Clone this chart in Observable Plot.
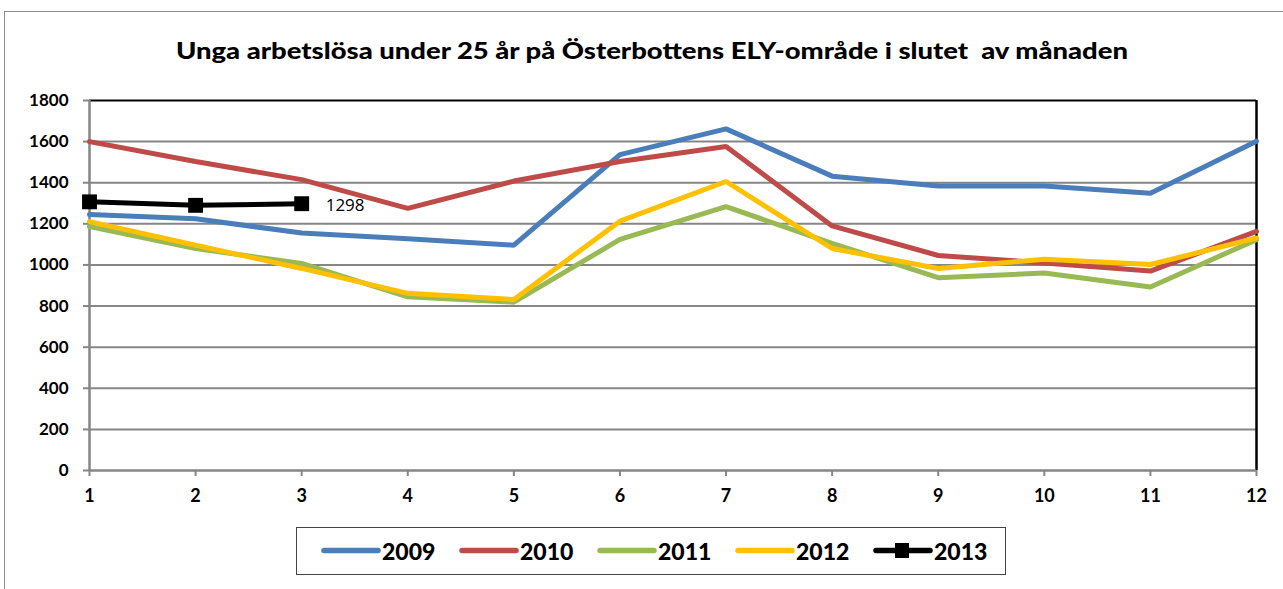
<!DOCTYPE html>
<html>
<head>
<meta charset="utf-8">
<script src="https://cdn.jsdelivr.net/npm/d3@7"></script>
<script src="https://cdn.jsdelivr.net/npm/@observablehq/plot@0.6"></script>
<style>
  html, body { margin: 0; padding: 0; background: #fff; }
  body { width: 1283px; height: 589px; position: relative; overflow: hidden; font-family: Lato, "Open Sans", sans-serif; }
  #frame { position: absolute; left: 4px; top: 11px; width: 1400px; height: 700px; border-left: 1.5px solid #8c8c8c; border-top: 1.5px solid #8c8c8c; }
  #chart { position: absolute; left: 0; top: 0; }
  #title { position: absolute; top: 36px; left: 0; white-space: pre; font-weight: 900; font-size: 23px; color: #000; transform-origin: 0 0; }
  #legend { position: absolute; left: 296px; top: 527px; width: 710px; height: 48px; border: 1.5px solid #444; box-sizing: border-box; }
  .item { position: absolute; top: 0; height: 45px; display: flex; align-items: center; }
  .item span { font-weight: 900; font-size: 23px; margin-left: 1px; display: inline-block; }
</style>
</head>
<body>
<div id="frame"></div>
<div id="chart"></div>
<div id="title">Unga arbetslösa under 25 år på Österbottens ELY-område i slutet  av månaden</div>
<div id="legend"></div>
<script>
const months = [1, 2, 3, 4, 5, 6, 7, 8, 9, 10, 11, 12];
const yTicks = [0, 200, 400, 600, 800, 1000, 1200, 1400, 1600, 1800];
const s2009 = [1245, 1225, 1155, 1128, 1096, 1537, 1662, 1432, 1384, 1384, 1349, 1602];
const s2010 = [1600, 1503, 1415, 1275, 1408, 1503, 1576, 1190, 1046, 1010, 970, 1163];
const s2011 = [1187, 1080, 1007, 845, 819, 1124, 1284, 1105, 938, 961, 893, 1123];
const s2012 = [1211, 1096, 983, 862, 832, 1213, 1406, 1080, 983, 1028, 1002, 1131];
const s2013 = [1307, 1290, 1298];
const seriesNames = ["2009", "2010", "2011", "2012", "2013"];
const seriesColors = ["#4A7EBB", "#BE4B48", "#98B954", "#FFC000", "#000000"];
const label2013 = "1298";

const allSeries = [s2009, s2010, s2011, s2012, s2013];
const rows = allSeries.map((s, i) => s.map((v, j) => ({ month: months[j], value: v, series: seriesNames[i] })));
const last2013 = rows[4][rows[4].length - 1];

const chart = Plot.plot({
  width: 1283,
  height: 589,
  marginLeft: 89,
  marginRight: 27,
  marginTop: 100,
  marginBottom: 119,
  x: { domain: [1, 12], axis: null, label: null },
  y: { domain: [0, 1800], axis: null, label: null },
  style: { fontFamily: "Lato, 'Open Sans', sans-serif", fontWeight: "bold", fontSize: "17px", color: "#000", background: "transparent" },
  marks: [
    Plot.ruleY(yTicks.filter(t => t > 0 && t < 1800), { stroke: "#868686", strokeWidth: 2, strokeOpacity: 1 }),
    Plot.ruleY([1800], { stroke: "#000", strokeWidth: 2 }),
    Plot.ruleX([12], { stroke: "#000", strokeWidth: 2.5 }),
    Plot.axisY({ ticks: yTicks, label: null, tickSize: 6, tickPadding: 15, stroke: "#868686", strokeWidth: 2, fontSize: 17, fontWeight: "bold", tickFormat: d => String(d) }),
    Plot.axisX({ ticks: months, label: null, tickSize: 6, tickPadding: 13, stroke: "#868686", strokeWidth: 2, fontSize: 18, fontWeight: "bold", tickFormat: d => String(d) }),
    Plot.ruleX([1], { stroke: "#868686", strokeWidth: 2.5 }),
    Plot.ruleY([0], { stroke: "#868686", strokeWidth: 2.5 }),
    Plot.line(rows[0], { x: "month", y: "value", stroke: seriesColors[0], strokeWidth: 5, strokeLinejoin: "miter" }),
    Plot.line(rows[1], { x: "month", y: "value", stroke: seriesColors[1], strokeWidth: 5, strokeLinejoin: "miter" }),
    Plot.line(rows[2], { x: "month", y: "value", stroke: seriesColors[2], strokeWidth: 5, strokeLinejoin: "miter" }),
    Plot.line(rows[3], { x: "month", y: "value", stroke: seriesColors[3], strokeWidth: 5, strokeLinejoin: "miter" }),
    Plot.line(rows[4], { x: "month", y: "value", stroke: seriesColors[4], strokeWidth: 5 }),
    Plot.dot(rows[4], { x: "month", y: "value", symbol: "square", r: 8.4, fill: "#000", stroke: "none" }),
    Plot.text([last2013], { x: "month", y: "value", text: () => label2013, dx: 24, dy: 2, textAnchor: "start", fontWeight: "normal", fontSize: 17, fill: "#000", fontFamily: "'Open Sans', Lato, sans-serif" })
  ]
});
document.getElementById("chart").appendChild(chart);

// title: centered, fitted to the reference width
const title = document.getElementById("title");
const tw = title.getBoundingClientRect().width;
const target = 952;
const sx = target / tw;
title.style.transform = `scaleX(${sx})`;
title.style.left = (652 - target / 2) + "px";

// legend
const legend = document.getElementById("legend");
seriesNames.forEach((name, i) => {
  const item = document.createElement("div");
  item.className = "item";
  item.style.left = (24 + i * 138) + "px";
  const marker = i === 4 ? `<rect x="22" y="6" width="14" height="15" fill="#000"/>` : "";
  item.innerHTML = `<svg width="60" height="27"><line x1="3" y1="13.5" x2="57" y2="13.5" stroke="${seriesColors[i]}" stroke-width="5.5" stroke-linecap="round"/>${marker}</svg><span>${name}</span>`;
  legend.appendChild(item);
});
</script>
</body>
</html>
